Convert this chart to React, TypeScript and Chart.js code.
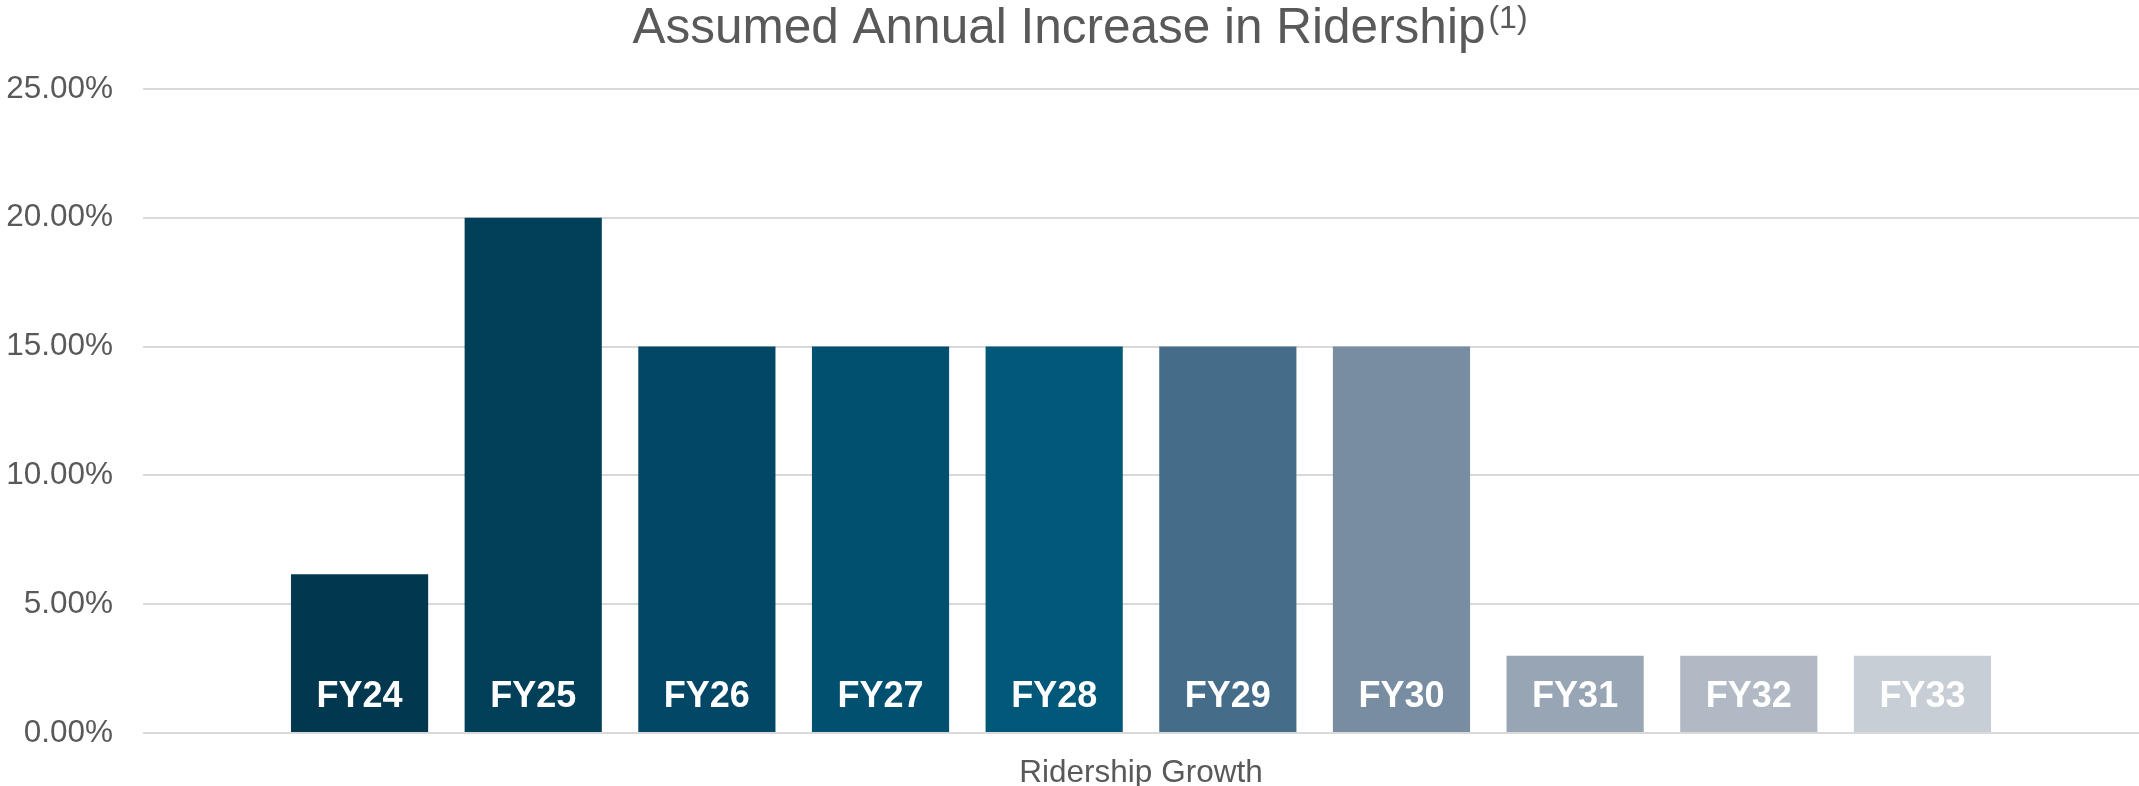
import React, { useEffect, useRef } from "react";
import { Chart, registerables } from "chart.js";

Chart.register(...registerables);

const categories = ["Ridership Growth"];
const seriesLabels = ["FY24", "FY25", "FY26", "FY27", "FY28", "FY29", "FY30", "FY31", "FY32", "FY33"];
const seriesValues = [6.16, 20, 15, 15, 15, 15, 15, 3, 3, 3];
const yMin = 0;
const yMax = 25;
const yStep = 5;
const titleMain = "Assumed Annual Increase in Ridership";
const titleSup = "(1)";

const barColors = [
  "#02384F",
  "#02405A",
  "#024866",
  "#02506F",
  "#025878",
  "#456C89",
  "#788DA2",
  "#97A5B4",
  "#B1BAC4",
  "#C8CED6",
];

const FONT = "'Liberation Sans', Arial, sans-serif";
const GREY = "#595959";

const titlePlugin = {
  id: "supTitle",
  afterDraw(chart: any) {
    const ctx = chart.ctx;
    ctx.save();
    ctx.fillStyle = GREY;
    ctx.textBaseline = "alphabetic";
    ctx.textAlign = "left";
    ctx.font = `49.5px ${FONT}`;
    const wMain = ctx.measureText(titleMain).width;
    ctx.font = `32px ${FONT}`;
    const wSup = ctx.measureText(titleSup).width;
    const gap = 3;
    const total = wMain + gap + wSup;
    const x0 = 1080 - total / 2;
    ctx.font = `49.5px ${FONT}`;
    ctx.fillText(titleMain, x0, 42.5);
    ctx.font = `32px ${FONT}`;
    ctx.fillText(titleSup, x0 + wMain + gap, 28);
    ctx.restore();
  },
};

const insideLabelPlugin = {
  id: "insideLabels",
  afterDatasetsDraw(chart: any) {
    const ctx = chart.ctx;
    ctx.save();
    ctx.fillStyle = "#FFFFFF";
    ctx.font = `bold 36px ${FONT}`;
    ctx.textAlign = "center";
    ctx.textBaseline = "alphabetic";
    chart.data.datasets.forEach((ds: any, i: number) => {
      const meta = chart.getDatasetMeta(i);
      meta.data.forEach((bar: any) => {
        const p = bar.getProps(["x", "base"], true);
        ctx.fillText(ds.label, p.x, p.base - 25);
      });
    });
    ctx.restore();
  },
};

export default function App() {
  const ref = useRef<HTMLCanvasElement | null>(null);

  useEffect(() => {
    document.body.style.margin = "0";
    const canvas = ref.current;
    if (!canvas) return;
    const chart = new Chart(canvas, {
      type: "bar",
      data: {
        labels: categories,
        datasets: seriesLabels.map((lbl, i) => ({
          label: lbl,
          data: [seriesValues[i]],
          backgroundColor: barColors[i],
          borderWidth: 0,
          barPercentage: 0.79,
          categoryPercentage: 0.87,
        })),
      },
      options: {
        animation: false,
        responsive: false,
        maintainAspectRatio: false,
        layout: { padding: { top: 89, right: 0, bottom: 0, left: 0 } },
        plugins: {
          legend: { display: false },
          tooltip: { enabled: false },
          title: { display: false },
        },
        scales: {
          x: {
            grid: { display: false, drawTicks: false },
            border: { display: false },
            ticks: {
              color: GREY,
              font: { family: FONT, size: 31.5 },
              padding: 21,
            },
            afterFit(s: any) {
              s.height = 53;
            },
          },
          y: {
            min: yMin,
            max: yMax,
            grid: { color: "#D9D9D9", lineWidth: 2, drawTicks: false },
            border: { display: false },
            ticks: {
              stepSize: yStep,
              color: GREY,
              font: { family: FONT, size: 31.5 },
              padding: 30,
              callback: (v: any) => Number(v).toFixed(2) + "%",
            },
            afterFit(s: any) {
              s.width = 143;
            },
          },
        },
      },
      plugins: [titlePlugin, insideLabelPlugin],
    });
    return () => chart.destroy();
  }, []);

  return (
    <div style={{ position: "absolute", left: 0, top: 0, width: 2139, height: 786 }}>
      <canvas ref={ref} width={2139} height={786} style={{ display: "block", width: 2139, height: 786 }} />
    </div>
  );
}
